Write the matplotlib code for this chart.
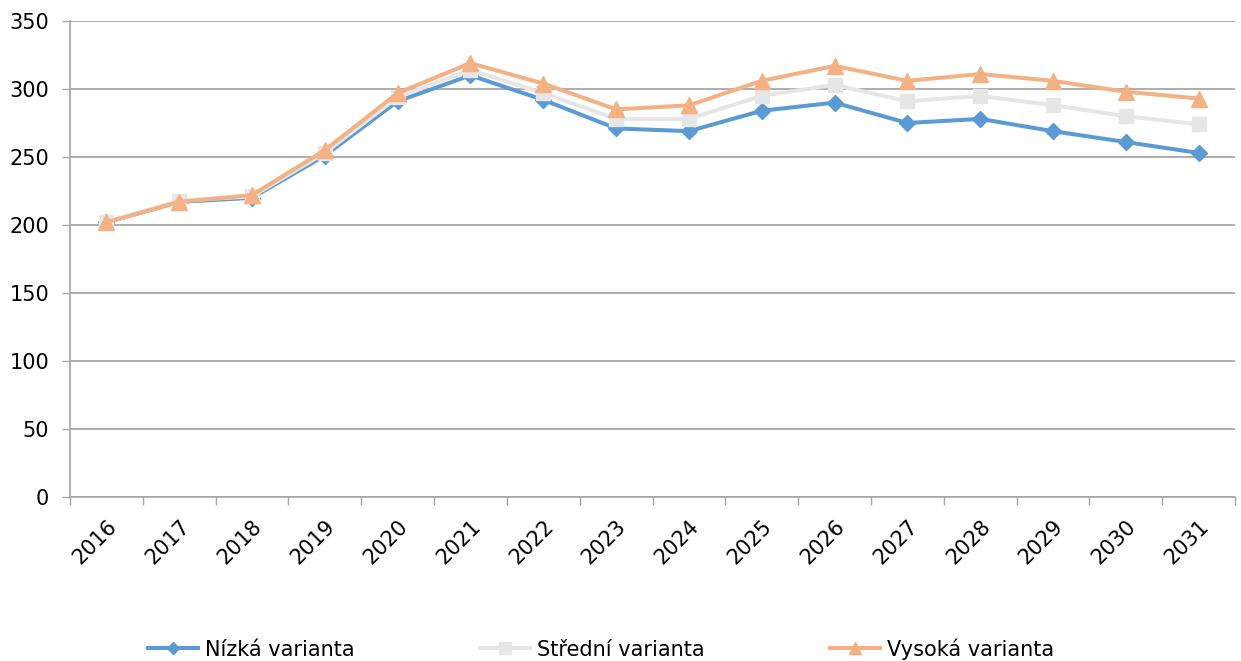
import numpy as np
import matplotlib.pyplot as plt

# Data
roky = ["2016", "2017", "2018", "2019", "2020", "2021", "2022", "2023",
        "2024", "2025", "2026", "2027", "2028", "2029", "2030", "2031"]
nizka = [202, 217, 220, 251, 291, 310, 292, 271, 269, 284, 290, 275, 278, 269, 261, 253]
stredni = [202, 218, 221, 253, 294, 314, 297, 278, 278, 295, 303, 291, 295, 288, 280, 274]
vysoka = [202, 217, 222, 255, 297, 319, 304, 285, 288, 306, 317, 306, 311, 306, 298, 293]

nazvy = ["Nízká varianta", "Střední varianta", "Vysoká varianta"]

if __name__ == "__main__":
	plt.rcParams['font.family'] = ['DejaVu Sans']

	fig = plt.figure(figsize=(12.41, 6.61), dpi=100)
	ax = fig.add_axes([70/1241, 164/661, 1165/1241, 476/661])

	x = np.arange(len(roky))

	# Plot
	ax.plot(x, nizka, color="#5B9BD5", lw=2.9, marker="D", ms=8, label=nazvy[0], zorder=3)
	ax.plot(x, stredni, color="#E7E6E6", lw=2.9, marker="s", ms=10, label=nazvy[1], zorder=4)
	ax.plot(x, vysoka, color="#F4B183", lw=2.9, marker="^", ms=11, label=nazvy[2], zorder=5)

	# Axes
	ax.set_ylim(0, 350)
	ax.set_yticks(np.arange(0, 351, 50))
	ax.set_xlim(-0.5, len(roky) - 0.5)
	ax.set_xticks(x)
	ax.set_xticklabels(roky, rotation=45, ha="right", rotation_mode="anchor")
	ax.set_xticks(np.arange(-0.5, len(roky), 1), minor=True)
	ax.tick_params(axis="x", which="major", length=0, pad=14, labelsize=15)
	ax.tick_params(axis="x", which="minor", length=6, color="#A6A6A6", width=1)
	ax.tick_params(axis="y", length=6, color="#A6A6A6", width=1, labelsize=15, pad=9)

	ax.yaxis.grid(True, color="#A0A0A0", lw=1.2)
	ax.set_axisbelow(True)
	for s in ["top", "right"]:
		ax.spines[s].set_visible(False)
	ax.spines["left"].set_color("#A6A6A6")
	ax.spines["bottom"].set_color("#A6A6A6")
	ax.spines["left"].set_linewidth(1.2)
	ax.spines["bottom"].set_linewidth(1.2)

	fig.legend(loc="center", bbox_to_anchor=(601/1241, 1 - 649/661), ncol=3, frameon=False,
			   fontsize=15, handlelength=2.4, handletextpad=0.35, columnspacing=6,
			   markerscale=0.8)

	fig.savefig("out.png", dpi=100)
